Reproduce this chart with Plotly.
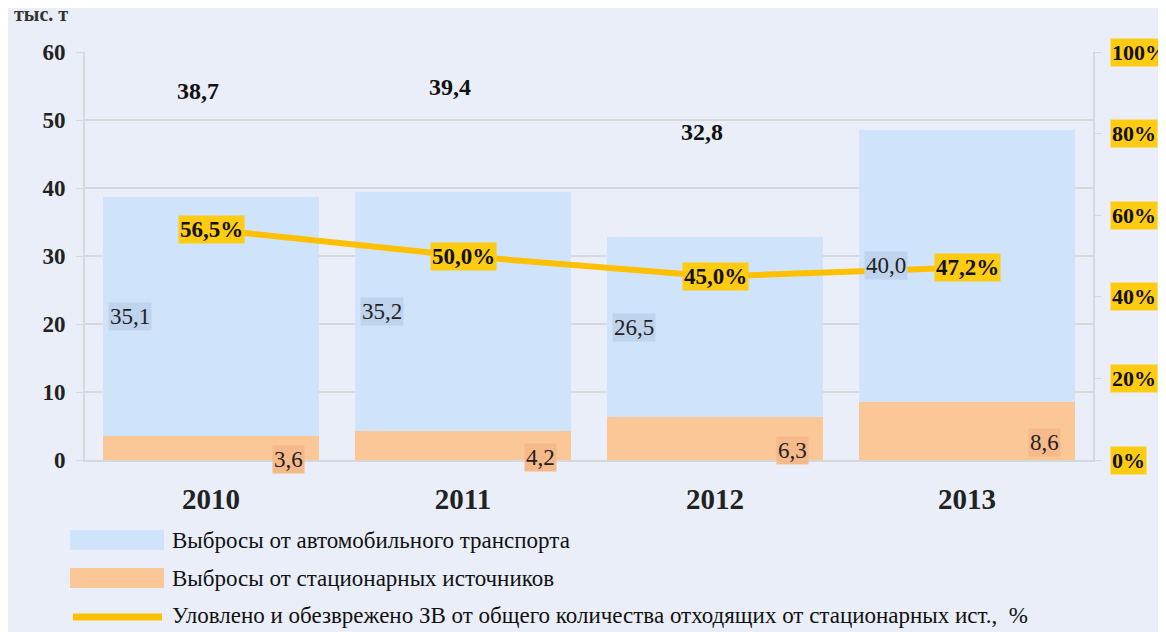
import plotly.graph_objects as go

years = ["2010", "2011", "2012", "2013"]
auto = [35.1, 35.2, 26.5, 40.0]
stationary = [3.6, 4.2, 6.3, 8.6]
totals = [38.7, 39.4, 32.8, 48.6]
captured_pct = [56.5, 50.0, 45.0, 47.2]
auto_lbl = ["35,1", "35,2", "26,5", "40,0"]
stat_lbl = ["3,6", "4,2", "6,3", "8,6"]
total_lbl = ["38,7", "39,4", "32,8", "48,6"]
pct_lbl = ["56,5%", "50,0%", "45,0%", "47,2%"]
y_ticks = [0, 10, 20, 30, 40, 50, 60]
y2_ticks = [0, 20, 40, 60, 80, 100]
y2_tick_lbl = ["0%", "20%", "40%", "60%", "80%", "100%"]
legend_names = ["Выбросы от автомобильного транспорта",
                "Выбросы от стационарных источников",
                "Уловлено и обезврежено ЗВ от общего количества отходящих от стационарных ист.,  %"]

BG = "#e9eef8"
BLUE = "#cfe3fa"
ORANGE = "#fbc797"
LINE = "#ffc000"
GOLD = "#ffcc11"
GRID = "#d6d8dc"
FONT = "Liberation Serif, DejaVu Serif, serif"

OFF = 8  # page offset of the figure
W, H = 1150, 624
L, T = 85 - OFF, 52 - OFF
R = W - (1093 - OFF)
B = H - (460 - OFF)
pw, ph = W - L - R, H - T - B

def px(x):
    return (x - OFF - L) / pw

def py(y):
    return (H - B - (y - OFF)) / ph

xs = list(range(len(years)))
BW = 0.86

fig = go.Figure()
fig.add_trace(go.Bar(x=xs, y=stationary, marker=dict(color=ORANGE, line=dict(width=0)),
                     width=BW, name=legend_names[1], showlegend=False, hoverinfo="y"))
fig.add_trace(go.Bar(x=xs, y=auto, marker=dict(color=BLUE, line=dict(width=0)),
                     width=BW, name=legend_names[0], showlegend=False, hoverinfo="y"))
fig.add_trace(go.Scatter(x=xs, y=captured_pct, yaxis="y2", mode="lines",
                         line=dict(color=LINE, width=6), name=legend_names[2],
                         showlegend=False))

ann = []
for i in xs:
    ann.append(dict(x=i - BW / 2, y=stationary[i] + auto[i] / 2, xref="x", yref="y",
                    text=auto_lbl[i], showarrow=False, xanchor="left", xshift=5,
                    bgcolor="#bfd3ec", borderpad=1,
                    font=dict(family=FONT, size=23, color="#222")))
    ann.append(dict(x=i + BW / 2, y=stationary[i] / 2, xref="x", yref="y",
                    text=stat_lbl[i], showarrow=False, xanchor="right", xshift=-14,
                    yshift=-12, bgcolor="#f6b98a", borderpad=1,
                    font=dict(family=FONT, size=23, color="#222")))
    ann.append(dict(x=i, y=totals[i] + 15.5, xref="x", yref="y", text="<b>%s</b>" % total_lbl[i],
                    showarrow=False, xshift=-13,
                    font=dict(family=FONT, size=24, color="#111")))
    ann.append(dict(x=i, y=captured_pct[i], xref="x", yref="y2", text="<b>%s</b>" % pct_lbl[i],
                    showarrow=False, bgcolor=GOLD, borderpad=1,
                    font=dict(family=FONT, size=23, color="#111")))

for v, t in zip(y2_ticks, y2_tick_lbl):
    ann.append(dict(x=px(1110), y=v, xref="paper", yref="y2", text="<b>%s</b>" % t,
                    showarrow=False, xanchor="left", bgcolor=GOLD, borderpad=1,
                    font=dict(family=FONT, size=22, color="#111")))

ann.append(dict(x=px(12), y=py(14), xref="paper", yref="paper", text="<b>тыс. т</b>",
                showarrow=False, xanchor="left", yanchor="middle",
                font=dict(family=FONT, size=20, color="#333")))

shapes = []
leg_y = [540, 578, 615]
shapes.append(dict(type="rect", xref="paper", yref="paper", x0=px(70), x1=px(164),
                   y0=py(530), y1=py(550), fillcolor=BLUE, line=dict(width=0)))
shapes.append(dict(type="rect", xref="paper", yref="paper", x0=px(70), x1=px(164),
                   y0=py(568), y1=py(588), fillcolor=ORANGE, line=dict(width=0)))
shapes.append(dict(type="line", xref="paper", yref="paper", x0=px(73), x1=px(162),
                   y0=py(617), y1=py(617), line=dict(color=LINE, width=7)))
for yy, nm in zip(leg_y, legend_names):
    ann.append(dict(x=px(170), y=py(yy), xref="paper", yref="paper", text=nm,
                    showarrow=False, xanchor="left", yanchor="middle",
                    font=dict(family=FONT, size=23, color="#111")))

fig.update_layout(
    width=W, height=H,
    margin=dict(l=L, r=R, t=T, b=B),
    paper_bgcolor=BG, plot_bgcolor=BG,
    barmode="stack",
    showlegend=False,
    annotations=ann, shapes=shapes,
    xaxis=dict(tickmode="array", tickvals=xs, ticktext=["<b>%s</b>" % y for y in years],
               range=[-0.5, 3.5], showgrid=False, showline=True, linecolor=GRID, linewidth=2,
               ticks="outside", ticklen=0, tickfont=dict(family=FONT, size=29, color="#222"),
               ticklabelstandoff=12, zeroline=False),
    yaxis=dict(range=[0, 60], tickvals=y_ticks, ticktext=["<b>%d</b>" % v for v in y_ticks],
               showgrid=True, gridcolor=GRID, gridwidth=2, showline=True, linecolor=GRID,
               linewidth=2, ticks="outside", ticklen=7, tickcolor=GRID,
               tickfont=dict(family=FONT, size=23, color="#222"), zeroline=False,
               ticklabelstandoff=6),
    yaxis2=dict(range=[0, 100], overlaying="y", side="right", tickvals=y2_ticks,
                showticklabels=False, showgrid=False, showline=True, linecolor=GRID,
                linewidth=2, ticks="outside", ticklen=7, tickcolor=GRID, zeroline=False),
)

fig.write_html("out.html")
